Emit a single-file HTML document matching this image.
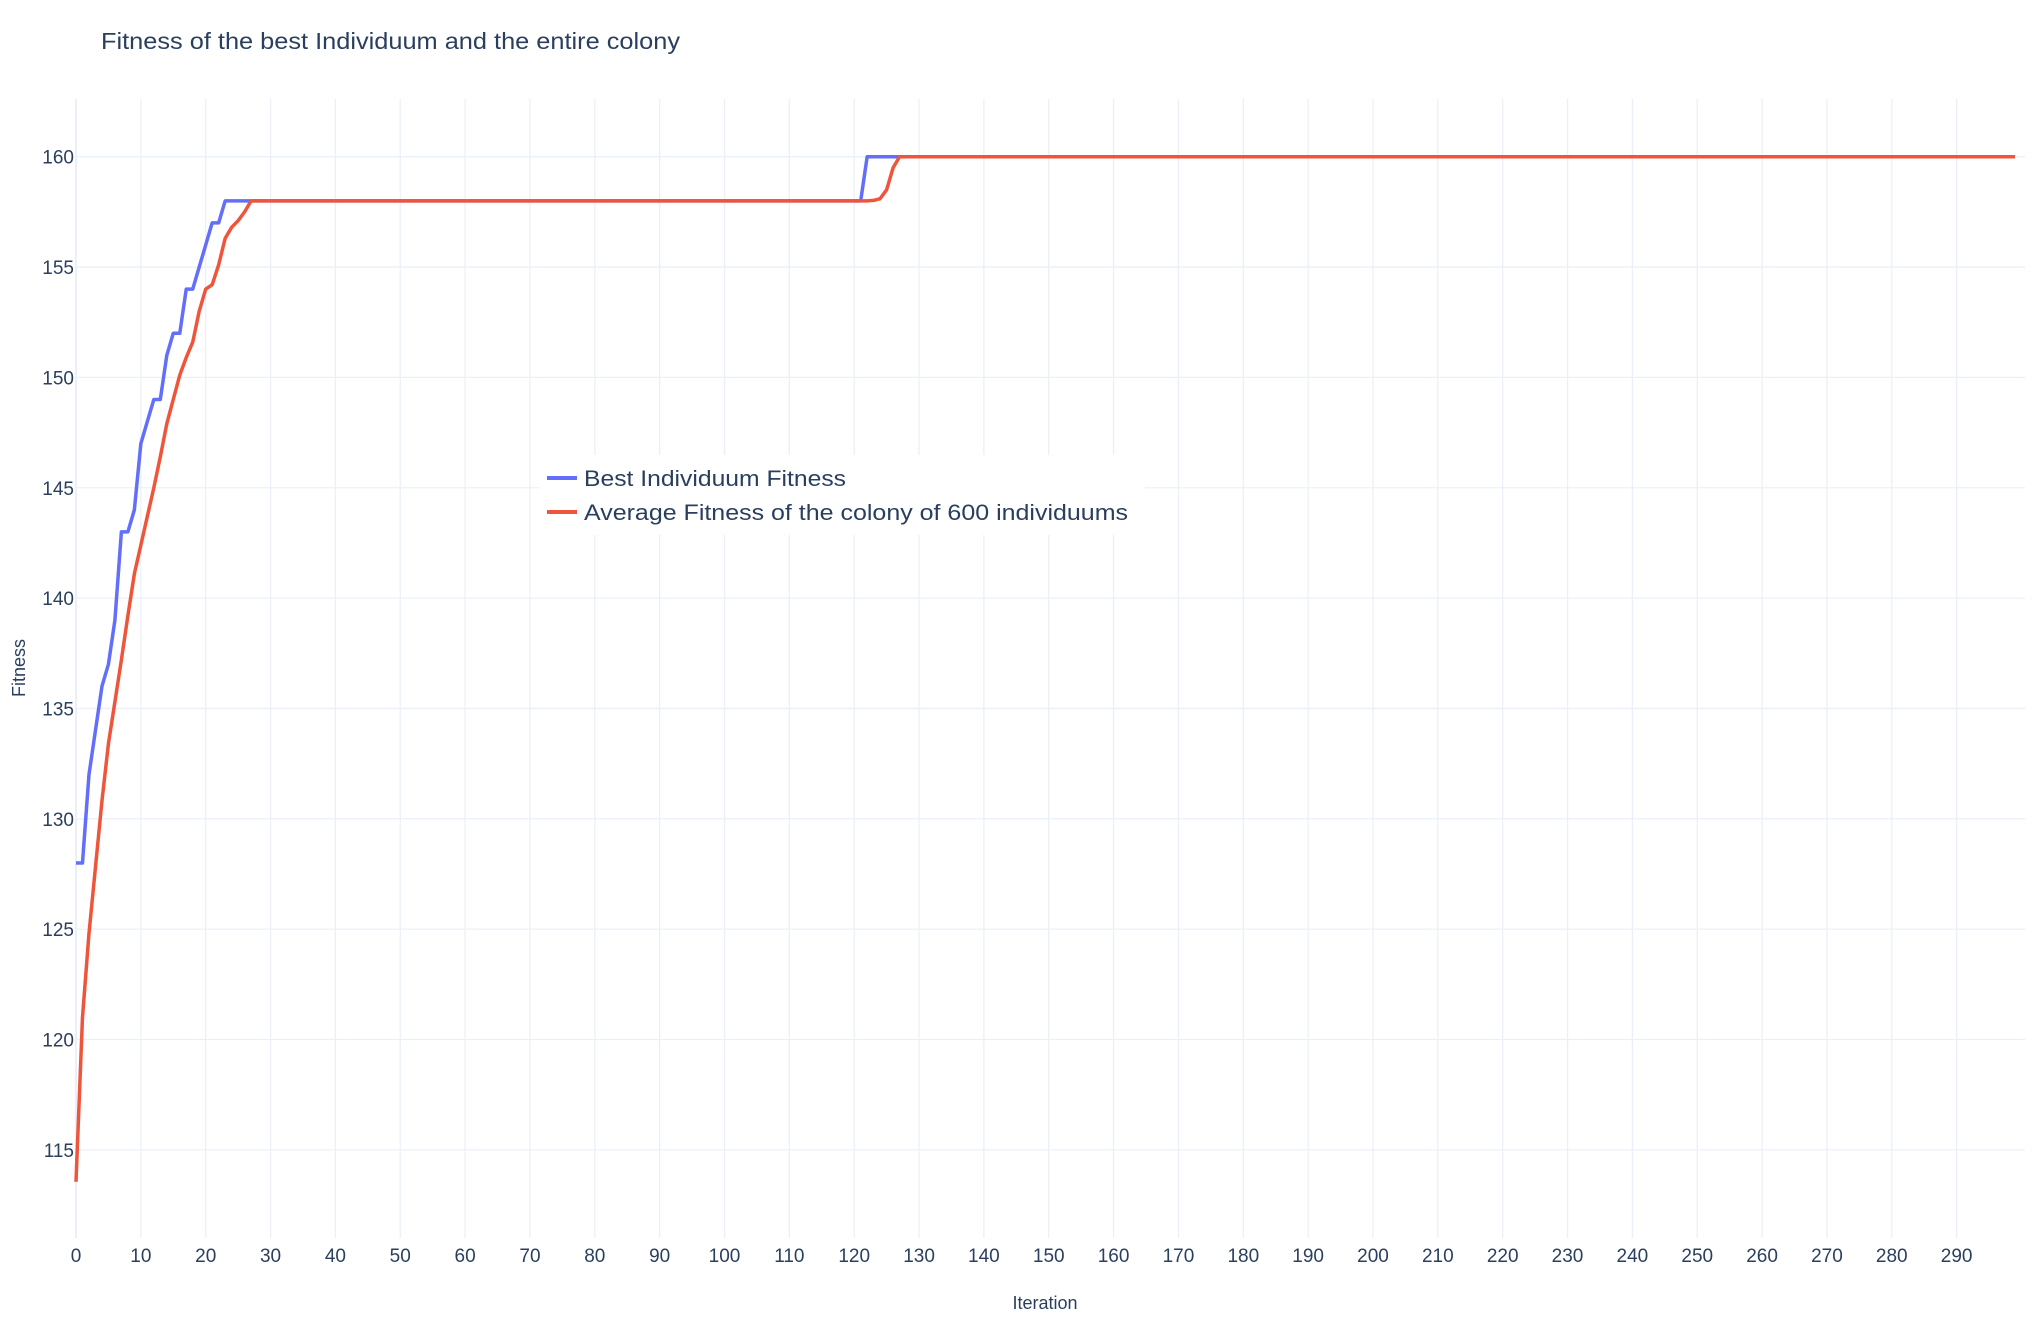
<!DOCTYPE html>
<html><head><meta charset="utf-8"><style>
html,body{margin:0;padding:0;background:#fff;}
svg{display:block;font-family:"Liberation Sans",sans-serif;}
</style></head><body>
<svg id="chart" width="2034" height="1323" viewBox="0 0 2034 1323">
<text x="101" y="49" font-size="23" fill="#2a3f5f" textLength="579" lengthAdjust="spacingAndGlyphs">Fitness of the best Individuum and the entire colony</text>
<g id="grid"></g>
<g id="series"></g>
<g id="ticks"></g>
<text x="1045" y="1309" font-size="18" fill="#2a3f5f" text-anchor="middle">Iteration</text>
<text transform="translate(25,668) rotate(-90)" font-size="18" fill="#2a3f5f" text-anchor="middle">Fitness</text>
<g id="legend">
<rect x="540" y="455" width="605" height="80" fill="#fff"/>
<line x1="547" y1="478" x2="577" y2="478" stroke="#636efa" stroke-width="4"/>
<text x="584" y="486" font-size="22" fill="#2a3f5f" textLength="262" lengthAdjust="spacingAndGlyphs">Best Individuum Fitness</text>
<line x1="547" y1="512" x2="577" y2="512" stroke="#EF553B" stroke-width="4"/>
<text x="584" y="520" font-size="22" fill="#2a3f5f" textLength="544" lengthAdjust="spacingAndGlyphs">Average Fitness of the colony of 600 individuums</text>
</g>
</svg>
<script>
const bestIter = [0,1,2,3,4,5,6,7,8,9,10,11,12,13,14,15,16,17,18,19,20,21,22,23,121,122,299];
const bestVals = [128,128,132,134,136,137,139,143,143,144,147,148,149,149,151,152,152,154,154,155,156,157,157,158,158,160,160];
const avgIter = [0,1,2,3,4,5,6,7,8,9,10,11,12,13,14,15,16,17,18,19,20,21,22,23,24,25,26,27,122,123,124,125,126,127,299];
const avgVals = [113.55,121,124.8,127.8,130.8,133.4,135.3,137.2,139.2,141.1,142.4,143.7,145,146.4,147.9,149,150.1,150.9,151.6,153,154,154.2,155.1,156.3,156.8,157.1,157.5,158,158,158.02,158.1,158.5,159.5,160,160];
const xTicks = [0,10,20,30,40,50,60,70,80,90,100,110,120,130,140,150,160,170,180,190,200,210,220,230,240,250,260,270,280,290];
const yTicks = [115,120,125,130,135,140,145,150,155,160];

const L=76,R=2015,T=99,B=1238;
const X0=0,X1=299;
function xs(v){return L+(v-X0)*(R-L)/(X1-X0);}
function ys(v){return 156.7+(160-v)*22.07;}
const NS="http://www.w3.org/2000/svg";
function mk(tag,attrs,parent){const e=document.createElementNS(NS,tag);for(const k in attrs)e.setAttribute(k,attrs[k]);parent.appendChild(e);return e;}
const grid=document.getElementById('grid'),ticks=document.getElementById('ticks'),series=document.getElementById('series');
xTicks.forEach(t=>{
  const g=mk('line',{x1:xs(t),x2:xs(t),y1:T,y2:B,stroke:'#ebf0f8','stroke-width':t===0?2:1.3},grid);
  
  
  const lb=mk('text',{x:xs(t),y:1262,'font-size':19,fill:'#2a3f5f','text-anchor':'middle'},ticks);
  lb.textContent=t;
  
  
});
yTicks.forEach(t=>{
  const g=mk('line',{x1:L,x2:R+10,y1:ys(t),y2:ys(t),stroke:'#ebf0f8','stroke-width':1.3},grid);
  
  
  const lb=mk('text',{x:74,y:ys(t)+7,'font-size':19,fill:'#2a3f5f','text-anchor':'end'},ticks);
  lb.textContent=t;
  
  
});
function path(it,vals){return it.map((x,i)=>(i?'L':'M')+xs(x).toFixed(2)+' '+ys(vals[i]).toFixed(2)).join(' ');}
const pb=mk('path',{d:path(bestIter,bestVals),fill:'none',stroke:'#636efa','stroke-width':3.5,'stroke-linejoin':'round'},series);


const pa=mk('path',{d:path(avgIter,avgVals),fill:'none',stroke:'#EF553B','stroke-width':3.5,'stroke-linejoin':'round'},series);


</script>
</body></html>
